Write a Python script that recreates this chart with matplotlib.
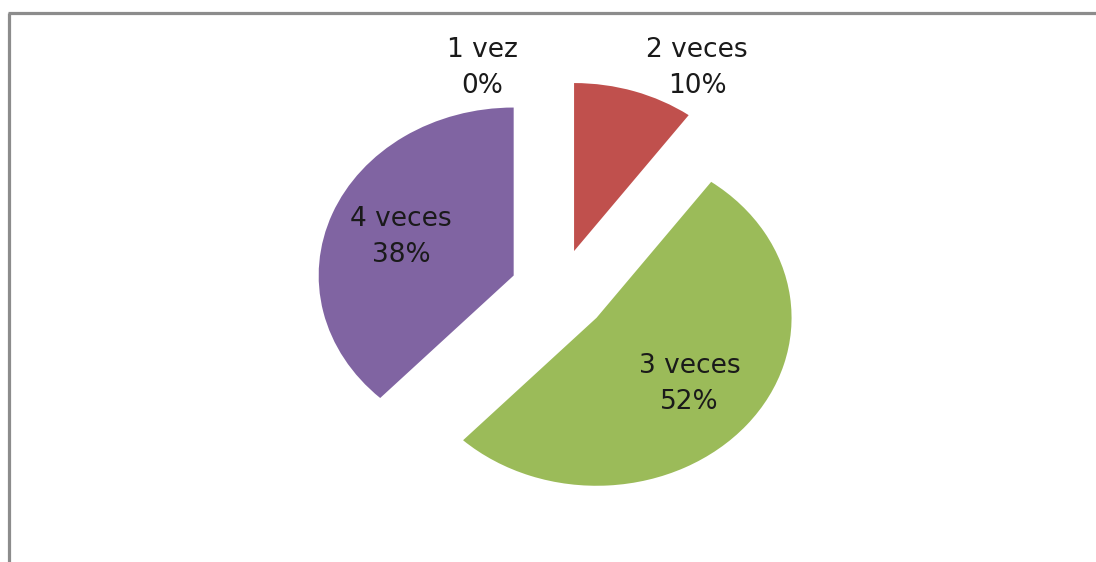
import matplotlib
matplotlib.use('Agg')
import matplotlib.pyplot as plt
from matplotlib.lines import Line2D

categories = ['1 vez', '2 veces', '3 veces', '4 veces']
percents = [0, 10, 52, 38]
colors = ['#4F81BD', '#C0504D', '#9BBB59', '#8064A2']

W, H = 1096, 562
fig = plt.figure(figsize=(W / 100, H / 100), dpi=100)
ax = fig.add_axes([0, 0, 1, 1])

labels = iter(f'{c}\n{p}%' for c, p in zip(categories, percents))
wedges, texts, autotexts = ax.pie(
    percents, colors=colors, startangle=90, counterclock=False,
    explode=[0.25] * len(percents), pctdistance=0.62,
    autopct=lambda pct: next(labels),
    wedgeprops=dict(linewidth=0),
    textprops=dict(fontsize=19, color='#1a1a1a', family='DejaVu Sans', linespacing=1.5))

# pie is drawn as ellipse (rx=195px, ry=168px), centre at (559, 291) from top-left
cx, cy, rx, ry = 559, 291, 195, 168
ax.set_aspect('auto')
ax.set_xlim(-cx / rx, (W - cx) / rx)
ax.set_ylim(-(H - cy) / ry, cy / ry)
ax.axis('off')

# labels of the small slices sit above the pie
autotexts[0].set_position((-0.395, 1.33))
autotexts[1].set_position((0.708, 1.33))

# chart frame (only left and top edges visible)
fig.add_artist(Line2D([8.5 / W, 8.5 / W], [0, 1 - 12.5 / H], color='#8c8c8c', lw=2.3,
                      transform=fig.transFigure, solid_capstyle='butt'))
fig.add_artist(Line2D([7.5 / W, 1], [1 - 12.5 / H, 1 - 12.5 / H], color='#8c8c8c', lw=2.3,
                      transform=fig.transFigure, solid_capstyle='butt'))

fig.savefig('out.png', dpi=100, facecolor='white')
